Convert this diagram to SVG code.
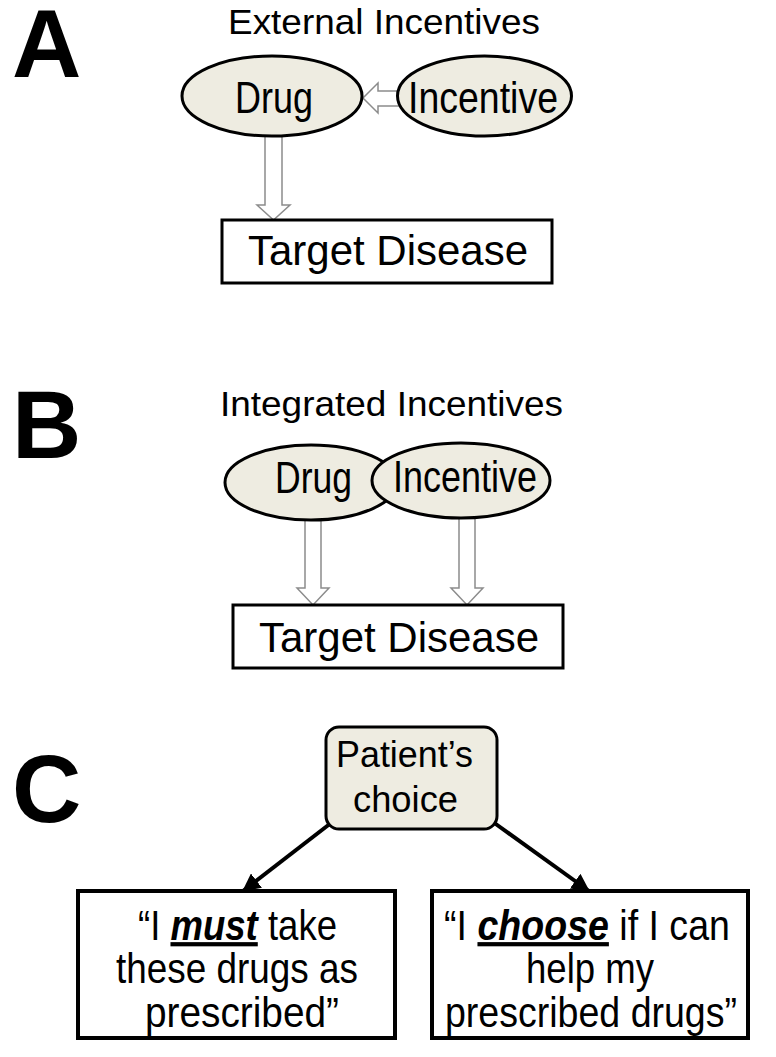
<svg xmlns="http://www.w3.org/2000/svg" width="776" height="1057" viewBox="0 0 776 1057">
<style>
text{font-family:"Liberation Sans",Arial,sans-serif;fill:#000}
.letter{font-size:96px;font-weight:bold}
.title{font-size:35px}
.oval{fill:#EEECE1;stroke:#000;stroke-width:3}
.olbl{font-size:44px}
.box{fill:#fff;stroke:#000;stroke-width:3}
.tgt{font-size:42px;text-anchor:middle}
.pc{font-size:36px}
.qbox{fill:#fff;stroke:#000;stroke-width:4}
.q{font-size:42px}
.qm{font-size:42px;text-anchor:middle}
.em{font-weight:bold;font-style:italic;text-decoration:underline}
.blk{fill:#fff;stroke:#8c8c8c;stroke-width:1.5;stroke-linejoin:miter}
.line{stroke:#000;stroke-width:4;fill:none}
</style>
<defs>
<marker id="ah" markerUnits="userSpaceOnUse" markerWidth="20" markerHeight="18" refX="17" refY="9" orient="auto">
<path d="M0,0 L18,9 L0,18 Z" fill="#000"/>
</marker>
</defs>
<rect width="776" height="1057" fill="#fff"/>
<g id="labels">
<text class="letter" x="12" y="77">A</text>
<text class="letter" x="12" y="458">B</text>
<text class="letter" x="12" y="822">C</text>
<text class="title" x="228" y="34" textLength="312" lengthAdjust="spacingAndGlyphs">External Incentives</text>
<text class="title" x="220" y="416" textLength="343" lengthAdjust="spacingAndGlyphs">Integrated Incentives</text>
</g>
<g id="connectors">
<path class="blk" d="M265,130 L265,205 L257,205 L273.5,220 L290,205 L282,205 L282,130 Z"/>
<path class="blk" d="M405,91 L378,91 L378,83 L363,98 L378,113 L378,106 L405,106 Z"/>
<path class="blk" d="M305,510 L305,588 L297,588 L313,605 L329,588 L321,588 L321,510 Z"/>
<path class="blk" d="M459,510 L459,588 L451,588 L467,605 L483,588 L475,588 L475,510 Z"/>
<line class="line" x1="331" y1="823" x2="243" y2="891" marker-end="url(#ah)"/>
<line class="line" x1="493" y1="822" x2="589" y2="891" marker-end="url(#ah)"/>
</g>
<g id="drugA">
<ellipse class="oval" cx="272" cy="96" rx="90" ry="40"/>
<text class="olbl" x="235" y="113" textLength="78" lengthAdjust="spacingAndGlyphs">Drug</text>
</g>
<g id="incentiveA">
<ellipse class="oval" cx="484.5" cy="96" rx="87" ry="40"/>
<text class="olbl" x="408" y="113" textLength="150" lengthAdjust="spacingAndGlyphs">Incentive</text>
</g>
<g id="targetA">
<rect class="box" x="222" y="220" width="330" height="63"/>
<text class="tgt" x="388" y="265">Target Disease</text>
</g>
<g id="drugB">
<ellipse class="oval" cx="311" cy="482.5" rx="86" ry="37.5"/>
<text class="olbl" x="275" y="493" font-size="42" textLength="77" lengthAdjust="spacingAndGlyphs">Drug</text>
</g>
<g id="incentiveB">
<ellipse class="oval" cx="461" cy="480.5" rx="89" ry="37.5"/>
<text class="olbl" x="393" y="492" font-size="42" textLength="144" lengthAdjust="spacingAndGlyphs">Incentive</text>
</g>
<g id="targetB">
<rect class="box" x="233" y="605" width="330" height="63"/>
<text class="tgt" x="399" y="652">Target Disease</text>
</g>
<g id="choice">
<rect class="oval" x="326" y="727" width="171" height="102" rx="13"/>
<text class="pc" x="336" y="767" textLength="137" lengthAdjust="spacingAndGlyphs">Patient’s</text>
<text class="pc" x="353" y="812" textLength="105" lengthAdjust="spacingAndGlyphs">choice</text>
</g>
<g id="must">
<rect class="qbox" x="78" y="891" width="317" height="147"/>
<text class="qm" transform="translate(237.5,940) scale(0.87,1)">“I <tspan class="em">must</tspan> take</text>
<text class="q" x="116" y="983" textLength="242" lengthAdjust="spacingAndGlyphs">these drugs as</text>
<text class="q" x="145" y="1027" textLength="194" lengthAdjust="spacingAndGlyphs">prescribed”</text>
</g>
<g id="choose">
<rect class="qbox" x="432" y="891" width="316" height="147"/>
<text class="qm" transform="translate(587,940) scale(0.894,1)">“I <tspan class="em">choose</tspan> if I can</text>
<text class="q" x="526" y="983" textLength="128" lengthAdjust="spacingAndGlyphs">help my</text>
<text class="q" x="445" y="1027" textLength="292" lengthAdjust="spacingAndGlyphs">prescribed drugs”</text>
</g>
</svg>
